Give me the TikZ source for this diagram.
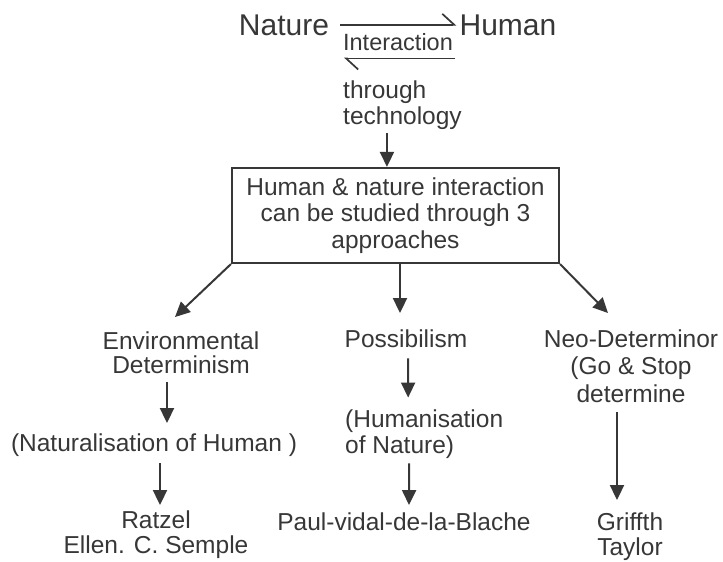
\documentclass[tikz,border=0pt]{standalone}
\usepackage{fontspec}
\setmainfont{Liberation Sans}
\usetikzlibrary{arrows.meta, positioning}
\definecolor{ink}{RGB}{55,55,55}
\tikzset{
  txt/.style = {inner sep=0pt, align=center, text=ink, font=\fontsize{24.5}{26}\selectfont},
  big/.style = {inner sep=0pt, text=ink, font=\fontsize{30}{32}\selectfont},
  box/.style = {draw=ink, line width=2.2pt, minimum width=327pt, minimum height=95pt, inner sep=0pt, align=center, text=ink, font=\fontsize{24.5}{26.5}\selectfont},
  line/.style = {draw=ink, line width=2pt, -{Triangle[length=15pt,width=14pt]}},
  harp/.style = {draw=ink, line width=1.7pt, -{Straight Barb[harpoon,length=12pt,width=22pt]}}
}
\begin{document}
\begin{tikzpicture}[x=1pt, y=1pt]
\useasboundingbox (0,0) rectangle (723,-562);

% Brief outline
\node [big, anchor=base] (nature) at (284,-35) {Nature};
\node [big, anchor=base] (human) at (508,-35) {Human};
\node [txt, anchor=base, font=\fontsize{23.5}{25}\selectfont] (inter) at (398,-50) {Interaction};
\node [txt, anchor=base west, align=left] (tech) at (343,-124) {through\\technology};
\node [box] (box) at (395.5,-215.5) {Human \& nature interaction\\can be studied through 3\\approaches};

\node [txt, anchor=base, font=\fontsize{24.5}{24}\selectfont] (env) at (181,-373) {Environmental\\Determinism};
\node [txt, anchor=base] (poss) at (406,-347) {Possibilism};
\node [txt, anchor=base, font=\fontsize{24.5}{27.5}\selectfont] (neo) at (631,-402) {Neo-Determinor\\(Go \& Stop\\determine};
\node [txt, anchor=base] (nat) at (154,-451) {(Naturalisation of Human )};
\node [txt, anchor=base west, align=left] (hum) at (345,-453) {(Humanisation\\of Nature)};
\node [txt, anchor=base, font=\fontsize{24.5}{25}\selectfont] (ratzel) at (156,-553) {Ratzel\\Ellen. C. Semple};
\node [txt, anchor=base, font=\fontsize{24.5}{25}\selectfont] (grif) at (630,-555) {Griffth\\Taylor};
\node [txt, anchor=base] (paul) at (404,-530) {Paul-vidal-de-la-Blache};

\path [harp] ([xshift=11pt]nature.east) -- ([xshift=-3pt]human.west);
\path [harp] ([xshift=2pt,yshift=-8pt]inter.south east) -- ([xshift=1pt,yshift=-8pt]inter.south west);
\path [line] ([xshift=-15.5pt,yshift=-4pt]tech.south) -- ([xshift=-15.5pt]tech.south |- box.north);

\path [line] (box.south west) -- ([xshift=-6pt,yshift=14pt]env.north);
\path [line] ([xshift=4.5pt]box.south) -- ([xshift=-6pt,yshift=16pt]poss.north);
\path [line] (box.south east) -- ([xshift=-23pt,yshift=16pt]neo.north);

\path [line] ([xshift=-14pt,yshift=-9pt]env.south) -- ([xshift=13pt,yshift=10pt]nat.north);
\path [line] ([xshift=6pt,yshift=-7pt]nat.south) -- ([xshift=4pt,yshift=5pt]ratzel.north);
\path [line] ([xshift=2pt,yshift=-11pt]poss.south) -- ([xshift=-16pt,yshift=11.5pt]hum.north);
\path [line] ([xshift=-15pt,yshift=-5pt]hum.south) -- ([xshift=5pt,yshift=7pt]paul.north);
\path [line] ([xshift=-14pt,yshift=-10pt]neo.south) -- ([xshift=-13pt,yshift=12pt]grif.north);
\end{tikzpicture}
\end{document}
